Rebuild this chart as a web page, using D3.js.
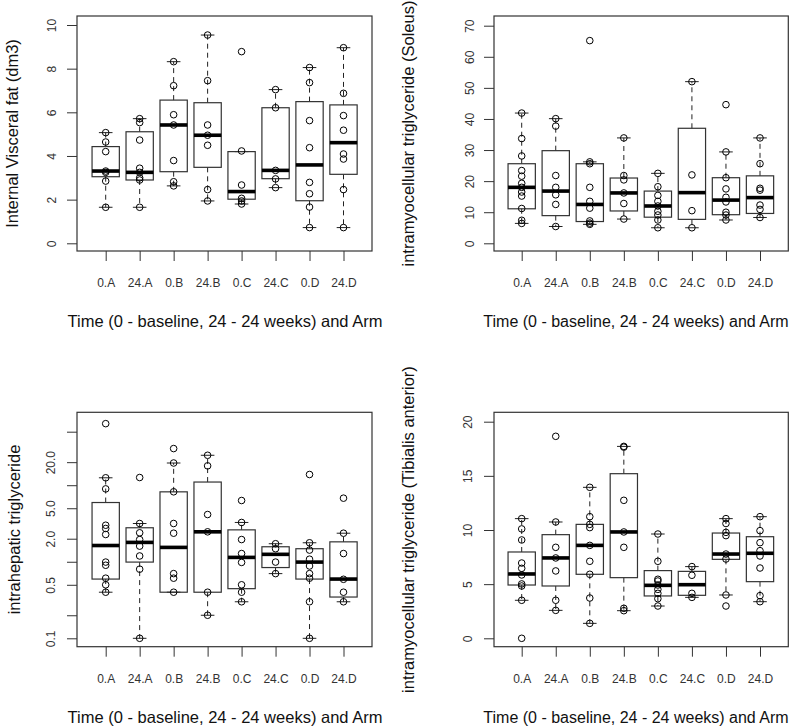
<!DOCTYPE html>
<html>
<head>
<meta charset="utf-8">
<script src="https://cdn.jsdelivr.net/npm/d3@7"></script>
<style>
  html, body { margin: 0; padding: 0; background: #fff; }
  svg { display: block; font-family: "Liberation Sans", Arial, sans-serif; }
</style>
</head>
<body>
<svg id="chart" width="800" height="728"></svg>
<script>
const categories = ["0.A","24.A","0.B","24.B","0.C","24.C","0.D","24.D"];
const xTitle = "Time (0 - baseline, 24 - 24 weeks) and Arm";

// Panel 1: Internal Visceral fat (dm3)
const visceralLo  = [1.65, 1.65, 2.63, 1.94, 1.80, 2.55, 0.72, 0.72];
const visceralQ1  = [3.05, 2.90, 3.28, 3.48, 2.02, 2.96, 1.95, 3.16];
const visceralMed = [3.31, 3.25, 5.42, 4.95, 2.37, 3.34, 3.59, 4.61];
const visceralQ3  = [4.43, 5.11, 6.56, 6.44, 4.20, 6.21, 6.49, 6.34];
const visceralHi  = [5.07, 5.71, 8.32, 9.54, 4.20, 7.04, 8.05, 8.96];
const visceralPts = [
  [1.65, 2.85, 3.25, 3.31, 4.20, 4.64, 5.07],
  [1.65, 2.90, 3.00, 3.25, 3.44, 4.73, 5.53, 5.71],
  [2.63, 2.82, 3.79, 5.42, 5.89, 7.22, 8.32],
  [1.94, 2.46, 4.49, 4.95, 5.42, 7.45, 9.54],
  [1.80, 1.94, 2.06, 2.67, 4.23, 8.78],
  [2.55, 2.95, 3.34, 6.21, 7.04],
  [0.72, 1.66, 2.27, 2.79, 4.38, 5.62, 7.36, 8.05],
  [0.72, 2.46, 3.86, 4.09, 5.18, 5.85, 6.87, 8.96]
];
const visceralTicks = [0, 2, 4, 6, 8, 10];
const visceralTickLabels = ["0", "2", "4", "6", "8", "10"];

// Panel 2: intramyocellular triglyceride (Soleus)
const soleusLo  = [6.4, 5.4, 6.1, 7.8, 5.0, 5.0, 7.5, 8.3];
const soleusQ1  = [11.1, 8.9, 7.0, 10.4, 8.4, 7.7, 9.2, 9.6];
const soleusMed = [18.0, 16.8, 12.5, 16.2, 12.0, 16.3, 13.9, 14.7];
const soleusQ3  = [25.6, 29.8, 25.6, 21.0, 16.8, 37.0, 21.1, 21.7];
const soleusHi  = [41.9, 40.1, 26.2, 33.9, 22.5, 52.0, 29.4, 33.9];
const soleusPts = [
  [6.4, 7.4, 11.2, 15.2, 16.5, 18.0, 19.3, 21.6, 23.4, 28.1, 33.7, 41.9],
  [5.4, 12.5, 15.6, 18.0, 21.8, 37.7, 40.1],
  [6.1, 6.5, 7.2, 11.3, 13.5, 18.0, 25.6, 26.2, 65.2],
  [7.8, 12.8, 16.2, 20.4, 21.8, 33.9],
  [5.0, 7.5, 9.1, 10.3, 12.0, 13.5, 15.4, 18.2, 22.5],
  [5.0, 10.5, 22.0, 52.0],
  [7.5, 9.1, 10.0, 13.3, 14.8, 17.5, 21.1, 29.4, 44.6],
  [8.3, 10.9, 12.3, 17.1, 17.7, 25.6, 33.9]
];
const soleusTicks = [0, 10, 20, 30, 40, 50, 60, 70];
const soleusTickLabels = ["0", "10", "20", "30", "40", "50", "60", "70"];

// Panel 3: intrahepatic triglyceride (log scale)
const hepaticLo  = [0.40, 0.10, 0.40, 0.20, 0.30, 0.70, 0.10, 0.30];
const hepaticQ1  = [0.594, 0.99, 0.40, 0.40, 0.445, 0.84, 0.594, 0.346];
const hepaticMed = [1.63, 1.79, 1.54, 2.46, 1.14, 1.25, 0.99, 0.594];
const hepaticQ3  = [5.94, 2.78, 8.19, 11.0, 2.61, 1.57, 1.48, 1.82];
const hepaticHi  = [12.5, 3.16, 19.5, 24.6, 3.26, 1.72, 1.77, 2.36];
const hepaticPts = [
  [0.40, 0.50, 0.61, 0.90, 0.99, 2.27, 2.72, 3.0, 8.95, 12.5, 63.7],
  [0.10, 0.80, 1.19, 1.60, 1.95, 2.39, 3.16, 12.6],
  [0.40, 0.61, 0.70, 2.36, 3.16, 8.2, 19.5, 30.1],
  [0.20, 0.40, 2.46, 4.14, 17.9, 24.6],
  [0.30, 0.40, 0.50, 0.98, 1.28, 1.95, 3.26, 6.31],
  [0.70, 0.99, 1.48, 1.72],
  [0.10, 0.30, 0.61, 0.70, 0.88, 1.08, 1.42, 1.77, 13.8],
  [0.30, 0.40, 0.59, 1.28, 2.36, 6.77]
];
const hepaticTicks = [0.1, 0.2, 0.5, 1, 2, 5, 10, 20, 50];
const hepaticTickLabels = ["0.1", "", "0.5", "", "2.0", "5.0", "", "20.0", ""];

// Panel 4: intramyocellular triglyceride (Tibialis anterior)
const tibialisLo  = [3.51, 2.58, 1.38, 2.55, 2.98, 3.78, 4.00, 3.38];
const tibialisQ1  = [4.92, 4.83, 5.91, 5.60, 3.91, 3.97, 7.29, 5.23];
const tibialisMed = [5.94, 7.42, 8.58, 9.82, 4.89, 4.95, 7.78, 7.85];
const tibialisQ3  = [7.97, 9.57, 10.52, 15.2, 6.25, 6.18, 9.72, 9.38];
const tibialisHi  = [11.05, 10.74, 13.94, 17.72, 9.63, 6.62, 11.05, 11.23];
const tibialisPts = [
  [0, 3.51, 4.83, 5.02, 5.85, 6.46, 6.95, 9.08, 10.1, 11.05],
  [2.58, 3.51, 6.22, 7.42, 8.4, 10.74, 18.65],
  [1.38, 3.72, 5.91, 7.11, 8.58, 10.22, 10.52, 11.23, 13.94],
  [2.55, 2.77, 8.4, 9.82, 12.74, 17.65, 17.72],
  [2.98, 3.66, 4.15, 4.52, 4.92, 5.29, 5.45, 7.11, 9.63],
  [3.78, 4.15, 5.82, 6.62],
  [2.98, 4.0, 7.32, 7.78, 9.48, 9.78, 10.6, 11.05],
  [3.38, 3.94, 6.49, 7.6, 8.09, 8.83, 9.94, 11.23]
];
const tibialisTicks = [0, 5, 10, 15, 20];
const tibialisTickLabels = ["0", "5", "10", "15", "20"];

const svg = d3.select("#chart");
svg.append("rect").attr("width", 800).attr("height", 728).attr("fill", "#fff");

const INK = "#222";

function panel(o) {
  const g = svg.append("g");
  const x = d3.scalePoint().domain(categories).range(o.xr);
  const y = o.y;
  const halfBox = 13.65, halfStaple = 6.8;

  const rows = categories.map((c, i) => ({
    c, lo: o.lo[i], q1: o.q1[i], med: o.med[i], q3: o.q3[i], hi: o.hi[i], pts: o.pts[i]
  }));

  const bx = g.selectAll("g.box").data(rows).join("g").attr("class", "box");
  bx.append("line")
    .attr("x1", d => x(d.c)).attr("x2", d => x(d.c))
    .attr("y1", d => y(d.q3)).attr("y2", d => y(d.hi))
    .attr("stroke", INK).attr("stroke-width", 1).attr("stroke-dasharray", "5,4");
  bx.append("line")
    .attr("x1", d => x(d.c)).attr("x2", d => x(d.c))
    .attr("y1", d => y(d.q1)).attr("y2", d => y(d.lo))
    .attr("stroke", INK).attr("stroke-width", 1).attr("stroke-dasharray", "5,4");
  bx.append("line")
    .attr("x1", d => x(d.c) - halfStaple).attr("x2", d => x(d.c) + halfStaple)
    .attr("y1", d => y(d.hi)).attr("y2", d => y(d.hi))
    .attr("stroke", INK).attr("stroke-width", 1);
  bx.append("line")
    .attr("x1", d => x(d.c) - halfStaple).attr("x2", d => x(d.c) + halfStaple)
    .attr("y1", d => y(d.lo)).attr("y2", d => y(d.lo))
    .attr("stroke", INK).attr("stroke-width", 1);
  bx.append("rect")
    .attr("x", d => x(d.c) - halfBox).attr("width", 2 * halfBox)
    .attr("y", d => y(d.q3)).attr("height", d => y(d.q1) - y(d.q3))
    .attr("fill", "none").attr("stroke", "#333").attr("stroke-width", 1.2);
  bx.append("line")
    .attr("x1", d => x(d.c) - halfBox).attr("x2", d => x(d.c) + halfBox)
    .attr("y1", d => y(d.med)).attr("y2", d => y(d.med))
    .attr("stroke", "#000").attr("stroke-width", 3.6);
  bx.selectAll("circle").data(d => d.pts.map(v => ({ c: d.c, v }))).join("circle")
    .attr("cx", d => x(d.c)).attr("cy", d => y(d.v)).attr("r", 3.3)
    .attr("fill", "none").attr("stroke", "#000").attr("stroke-width", 1);

  g.append("rect")
    .attr("x", o.fx0).attr("y", o.fy0)
    .attr("width", o.fx1 - o.fx0).attr("height", o.fy1 - o.fy0)
    .attr("fill", "none").attr("stroke", "#333").attr("stroke-width", 1.2);

  const ya = g.append("g").attr("transform", `translate(${o.fx0},0)`)
    .call(d3.axisLeft(y).tickValues(o.ticks).tickFormat((d, i) => o.tickLabels[i]).tickSize(10));
  ya.select(".domain").remove();
  ya.selectAll("line").attr("stroke", "#333");
  ya.selectAll("text")
    .attr("x", null).attr("dy", "0.35em").attr("y", -o.yLabOff)
    .attr("transform", "rotate(-90)").attr("text-anchor", "middle")
    .attr("font-size", 12).attr("fill", "#333");

  const xa = g.append("g").attr("transform", `translate(0,${o.fy1})`)
    .call(d3.axisBottom(x).tickSize(10));
  xa.select(".domain").remove();
  xa.selectAll("line").attr("stroke", "#333");
  xa.selectAll("text").attr("y", 32).attr("dy", "0.35em")
    .attr("font-size", 12).attr("fill", "#333");
  ya.attr("font-family", null); xa.attr("font-family", null);

  g.append("text")
    .attr("x", o.xTitleX).attr("y", o.fy1 + 76)
    .attr("text-anchor", "middle").attr("font-size", o.xTitleSize).attr("fill", "#111")
    .text(xTitle);
  g.append("text")
    .attr("transform", `translate(${o.yTitleX},${(o.fy0 + o.fy1) / 2}) rotate(-90)`)
    .attr("text-anchor", "middle").attr("font-size", 16.5).attr("fill", "#111")
    .text(o.yTitle);
}

panel({
  xr: [105.7, 343.5], fx0: 77, fx1: 372, fy0: 16, fy1: 251,
  y: d3.scaleLinear().domain([0, 10]).range([243.3, 25]),
  lo: visceralLo, q1: visceralQ1, med: visceralMed, q3: visceralQ3, hi: visceralHi, pts: visceralPts,
  ticks: visceralTicks, tickLabels: visceralTickLabels, yLabOff: 25,
  yTitle: "Internal Visceral fat (dm3)", yTitleX: 18, xTitleX: 225, xTitleSize: 16.5
});
panel({
  xr: [521.7, 760], fx0: 494, fx1: 788.3, fy0: 16, fy1: 251,
  y: d3.scaleLinear().domain([0, 70]).range([243.3, 25.7]),
  lo: soleusLo, q1: soleusQ1, med: soleusMed, q3: soleusQ3, hi: soleusHi, pts: soleusPts,
  ticks: soleusTicks, tickLabels: soleusTickLabels, yLabOff: 24,
  yTitle: "intramyocellular triglyceride (Soleus)", yTitleX: 414, xTitleX: 636, xTitleSize: 16
});
panel({
  xr: [105.7, 343.5], fx0: 77, fx1: 372, fy0: 412.3, fy1: 646.7,
  y: d3.scaleLog().domain([0.1, 50]).range([638.3, 431.7]),
  lo: hepaticLo, q1: hepaticQ1, med: hepaticMed, q3: hepaticQ3, hi: hepaticHi, pts: hepaticPts,
  ticks: hepaticTicks, tickLabels: hepaticTickLabels, yLabOff: 26,
  yTitle: "intrahepatic triglyceride", yTitleX: 20, xTitleX: 225, xTitleSize: 16.5
});
panel({
  xr: [521.7, 760], fx0: 494, fx1: 788.3, fy0: 412.3, fy1: 646.7,
  y: d3.scaleLinear().domain([0, 20]).range([638.3, 421.7]),
  lo: tibialisLo, q1: tibialisQ1, med: tibialisMed, q3: tibialisQ3, hi: tibialisHi, pts: tibialisPts,
  ticks: tibialisTicks, tickLabels: tibialisTickLabels, yLabOff: 26,
  yTitle: "intramyocellular triglyceride (Tibialis anterior)", yTitleX: 414, xTitleX: 636, xTitleSize: 16
});
</script>
</body>
</html>
